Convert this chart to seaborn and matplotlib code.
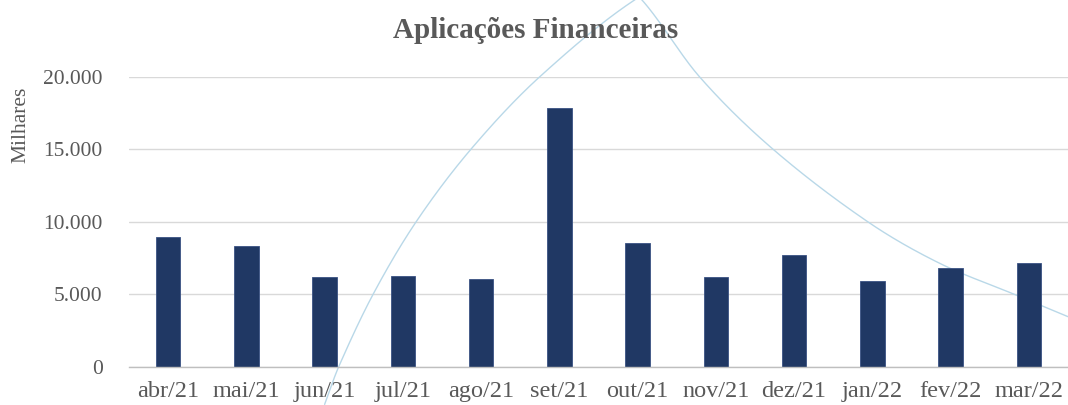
import numpy as np
import pandas as pd
import matplotlib
matplotlib.use("Agg")
import matplotlib.pyplot as plt
from matplotlib.ticker import FuncFormatter, FixedLocator
import seaborn as sns

# ---- data ----
meses = ["abr/21", "mai/21", "jun/21", "jul/21", "ago/21", "set/21",
         "out/21", "nov/21", "dez/21", "jan/22", "fev/22", "mar/22"]
aplicacoes = [8920, 8320, 6190, 6250, 6050, 17820, 8510, 6170, 7710, 5910, 6790, 7180]

# light-blue smoothed line (category units, value)
linha_pos = [2.0, 2.18, 2.62, 3.17, 3.87, 4.75, 6.02, 6.79, 7.73, 8.94, 9.86, 10.81, 11.5]
linha_val = [-2600, 0, 5000, 10000, 15000, 20000, 25500, 20000, 15000, 10000, 7130, 5000, 3450]
linha_pico = 6  # index of the apex point

titulo = "Aplicações Financeiras"
y_label = "Milhares"
y_ticks = [0, 5000, 10000, 15000, 20000]

# ---- style ----
sns.set_theme(style="white")
plt.rcParams["font.family"] = ["Liberation Serif", "DejaVu Serif"]
txt = "#595959"
navy = "#203864"

fig = plt.figure(figsize=(10.68, 4.05), dpi=100)
ax = fig.add_axes([129 / 1068, 1 - 366.7 / 405, (1068 - 129) / 1068, (366.7 - 76.7) / 405])

df = pd.DataFrame({"mes": meses, "valor": aplicacoes})

# smoothed rendering (cubic Hermite) of the line through its points
xp = np.array(linha_pos, dtype=float)
yp = np.array(linha_val, dtype=float)
n = len(xp)
m_in = np.zeros(n)
m_out = np.zeros(n)
for k in range(n):
    if k == 0:
        s = (yp[1] - yp[0]) / (xp[1] - xp[0])
        m_in[k] = m_out[k] = s
    elif k == n - 1:
        s = (yp[-1] - yp[-2]) / (xp[-1] - xp[-2])
        m_in[k] = m_out[k] = s
    elif k == linha_pico:
        m_in[k] = (yp[k] - yp[k - 1]) / (xp[k] - xp[k - 1]) * 0.8
        m_out[k] = (yp[k + 1] - yp[k]) / (xp[k + 1] - xp[k]) * 0.8
    else:
        s = (yp[k + 1] - yp[k - 1]) / (xp[k + 1] - xp[k - 1])
        m_in[k] = m_out[k] = s
xs, ys = [], []
for k in range(n - 1):
    h = xp[k + 1] - xp[k]
    t = np.linspace(0, 1, 60)
    h00 = 2 * t**3 - 3 * t**2 + 1
    h10 = t**3 - 2 * t**2 + t
    h01 = -2 * t**3 + 3 * t**2
    h11 = t**3 - t**2
    xs.append(xp[k] + t * h)
    ys.append(h00 * yp[k] + h10 * h * m_out[k] + h01 * yp[k + 1] + h11 * h * m_in[k + 1])
xs = np.concatenate(xs)
ys = np.concatenate(ys)
ax.plot(xs, ys, color="#B9D8E8", lw=1.0, clip_on=False, zorder=1.5)

sns.barplot(data=df, x="mes", y="valor", color=navy, width=0.315, ax=ax,
            saturation=1, edgecolor="#3A5283", linewidth=0.6, zorder=2)

ax.set_xlim(-0.5, 11.5)
ax.set_ylim(0, 20000)
ax.set_yticks(y_ticks)
ax.yaxis.set_major_formatter(FuncFormatter(lambda v, p: f"{int(v):,}".replace(",", ".")))
ax.grid(axis="y", color="#D9D9D9", lw=1.0, zorder=0)
ax.set_axisbelow(True)
for s in ["left", "right", "top"]:
    ax.spines[s].set_visible(False)
ax.spines["bottom"].set_color("#BFBFBF")
ax.spines["bottom"].set_linewidth(1.0)
ax.spines["bottom"].set_zorder(3)

ax.set_xlabel("")
ax.set_ylabel("")
ax.tick_params(axis="y", length=0, pad=19, labelsize=15.5, labelcolor=txt)
ax.tick_params(axis="x", which="major", length=0, pad=10, labelsize=17.5, labelcolor=txt)
ax.xaxis.set_minor_locator(FixedLocator(np.arange(-0.5, 12, 1.0)))
ax.tick_params(axis="x", which="minor", length=6, width=1.0, color="#BFBFBF", direction="out")

fig.text(535.5 / 1068, 1 - 30 / 405, titulo, ha="center", va="center",
         fontsize=21, fontweight="bold", color=txt)
fig.text(20.5 / 1068, 1 - 125 / 405, y_label, ha="center", va="center",
         rotation=90, fontsize=15.5, color=txt)

fig.savefig("out.png", dpi=100)
